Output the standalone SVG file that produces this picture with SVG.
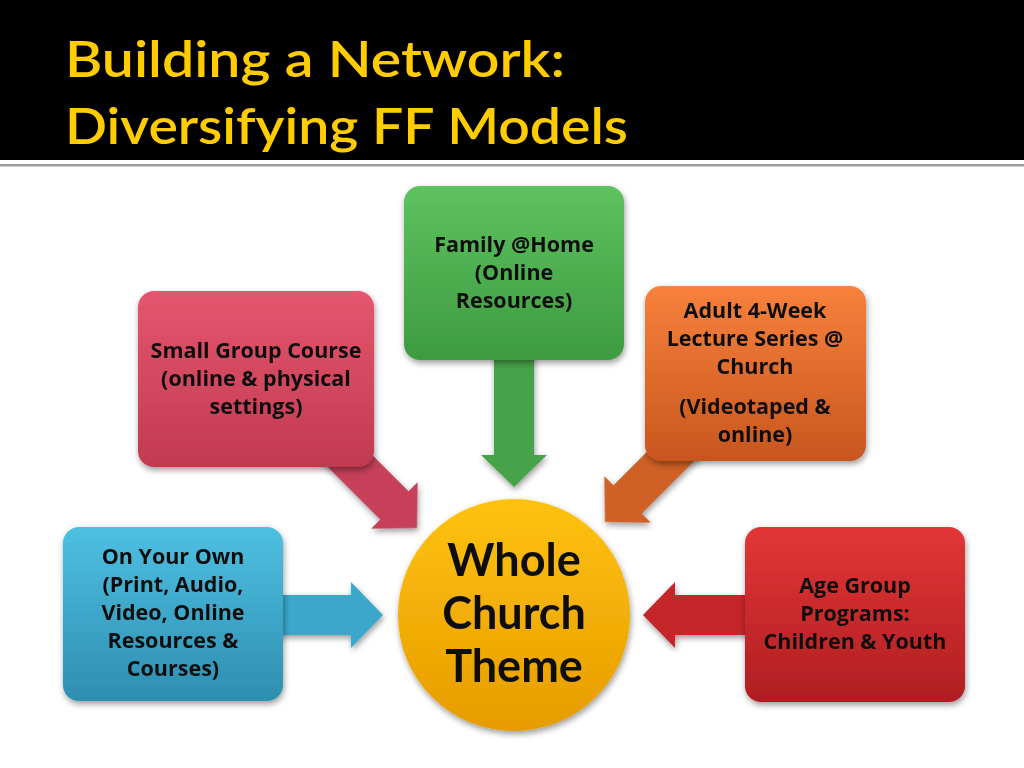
<svg xmlns="http://www.w3.org/2000/svg" width="1024" height="768" viewBox="0 0 1024 768">
<defs>
<style>
.title{font-family:Lato,"Liberation Sans",sans-serif;font-size:50px;fill:#FFCC00;font-weight:600}
.lbl{font-family:"Open Sans","Liberation Sans",sans-serif;font-size:21.5px;font-weight:bold;fill:#111;text-anchor:middle}
.big{font-family:Lato,"Liberation Sans",sans-serif;font-size:45px;font-weight:bold;fill:#111;text-anchor:middle}
</style>
<filter id="sh" x="-10%" y="-10%" width="125%" height="130%">
<feGaussianBlur in="SourceAlpha" stdDeviation="3"/>
<feOffset dx="1" dy="3" result="b"/>
<feComponentTransfer><feFuncA type="linear" slope="0.4"/></feComponentTransfer>
<feMerge><feMergeNode/><feMergeNode in="SourceGraphic"/></feMerge>
</filter>
<linearGradient id="gGreen" x1="0" y1="0" x2="0" y2="1"><stop offset="0" stop-color="#5EC25F"/><stop offset="1" stop-color="#3D9B40"/></linearGradient>
<linearGradient id="gPink" x1="0" y1="0" x2="0" y2="1"><stop offset="0" stop-color="#E5566E"/><stop offset="1" stop-color="#C13A50"/></linearGradient>
<linearGradient id="gOrange" x1="0" y1="0" x2="0" y2="1"><stop offset="0" stop-color="#F7813C"/><stop offset="1" stop-color="#C8561F"/></linearGradient>
<linearGradient id="gBlue" x1="0" y1="0" x2="0" y2="1"><stop offset="0" stop-color="#4EC0E2"/><stop offset="1" stop-color="#2E8EB0"/></linearGradient>
<linearGradient id="gRed" x1="0" y1="0" x2="0" y2="1"><stop offset="0" stop-color="#E23636"/><stop offset="1" stop-color="#B01E22"/></linearGradient>
<linearGradient id="gGold" x1="0" y1="0" x2="0" y2="1"><stop offset="0" stop-color="#FFC20E"/><stop offset="1" stop-color="#E69C00"/></linearGradient>
<path id="arr" d="M0,0 L-32,-33 L-32,-20 L-150,-20 L-150,20 L-32,20 L-32,33 Z"/>
</defs>
<rect x="0" y="0" width="1024" height="768" fill="#ffffff"/>
<rect x="0" y="0" width="1024" height="160" fill="#000000"/>
<rect x="0" y="164" width="1024" height="2.5" fill="#9a9a9a"/>
<g id="title">
<text class="title" x="65" y="77" textLength="500" lengthAdjust="spacingAndGlyphs">Building a Network:</text>
<text class="title" x="65" y="144" textLength="563" lengthAdjust="spacingAndGlyphs">Diversifying FF Models</text>
</g>
<g id="connectors" filter="url(#sh)">
<use href="#arr" transform="translate(514,487) rotate(90)" fill="#47A34A"/>
<use href="#arr" transform="translate(417,528) rotate(45)" fill="#C6405A"/>
<use href="#arr" transform="translate(605,522) rotate(135)" fill="#CF6026"/>
<use href="#arr" transform="translate(383,615)" fill="#3BA7CA"/>
<use href="#arr" transform="translate(643,615) rotate(180)" fill="#C42629"/>
</g>
<g id="family" filter="url(#sh)">
<rect x="404" y="186" width="220" height="174" rx="16" fill="url(#gGreen)"/>
<text class="lbl" x="514" y="252">Family @Home</text>
<text class="lbl" x="514" y="280">(Online</text>
<text class="lbl" x="514" y="308">Resources)</text>
</g>
<g id="smallgroup" filter="url(#sh)">
<rect x="138" y="291" width="236" height="176" rx="16" fill="url(#gPink)"/>
<text class="lbl" x="256" y="358">Small Group Course</text>
<text class="lbl" x="256" y="386">(online &amp; physical</text>
<text class="lbl" x="256" y="414">settings)</text>
</g>
<g id="adult" filter="url(#sh)">
<rect x="645" y="286" width="221" height="175" rx="16" fill="url(#gOrange)"/>
<text class="lbl" x="755" y="318">Adult 4-Week</text>
<text class="lbl" x="755" y="346">Lecture Series @</text>
<text class="lbl" x="755" y="374">Church</text>
<text class="lbl" x="755" y="414">(Videotaped &amp;</text>
<text class="lbl" x="755" y="442">online)</text>
</g>
<g id="ownown" filter="url(#sh)">
<rect x="63" y="527" width="220" height="174" rx="16" fill="url(#gBlue)"/>
<text class="lbl" x="173" y="564">On Your Own</text>
<text class="lbl" x="173" y="592">(Print, Audio,</text>
<text class="lbl" x="173" y="620">Video, Online</text>
<text class="lbl" x="173" y="648">Resources &amp;</text>
<text class="lbl" x="173" y="676">Courses)</text>
</g>
<g id="agegroup" filter="url(#sh)">
<rect x="745" y="527" width="220" height="175" rx="16" fill="url(#gRed)"/>
<text class="lbl" x="855" y="593">Age Group</text>
<text class="lbl" x="855" y="621">Programs:</text>
<text class="lbl" x="855" y="649">Children &amp; Youth</text>
</g>
<g id="center" filter="url(#sh)">
<circle cx="514" cy="615" r="116" fill="url(#gGold)"/>
<text class="big" x="514" y="576">Whole</text>
<text class="big" x="514" y="629">Church</text>
<text class="big" x="514" y="682">Theme</text>
</g>
</svg>
